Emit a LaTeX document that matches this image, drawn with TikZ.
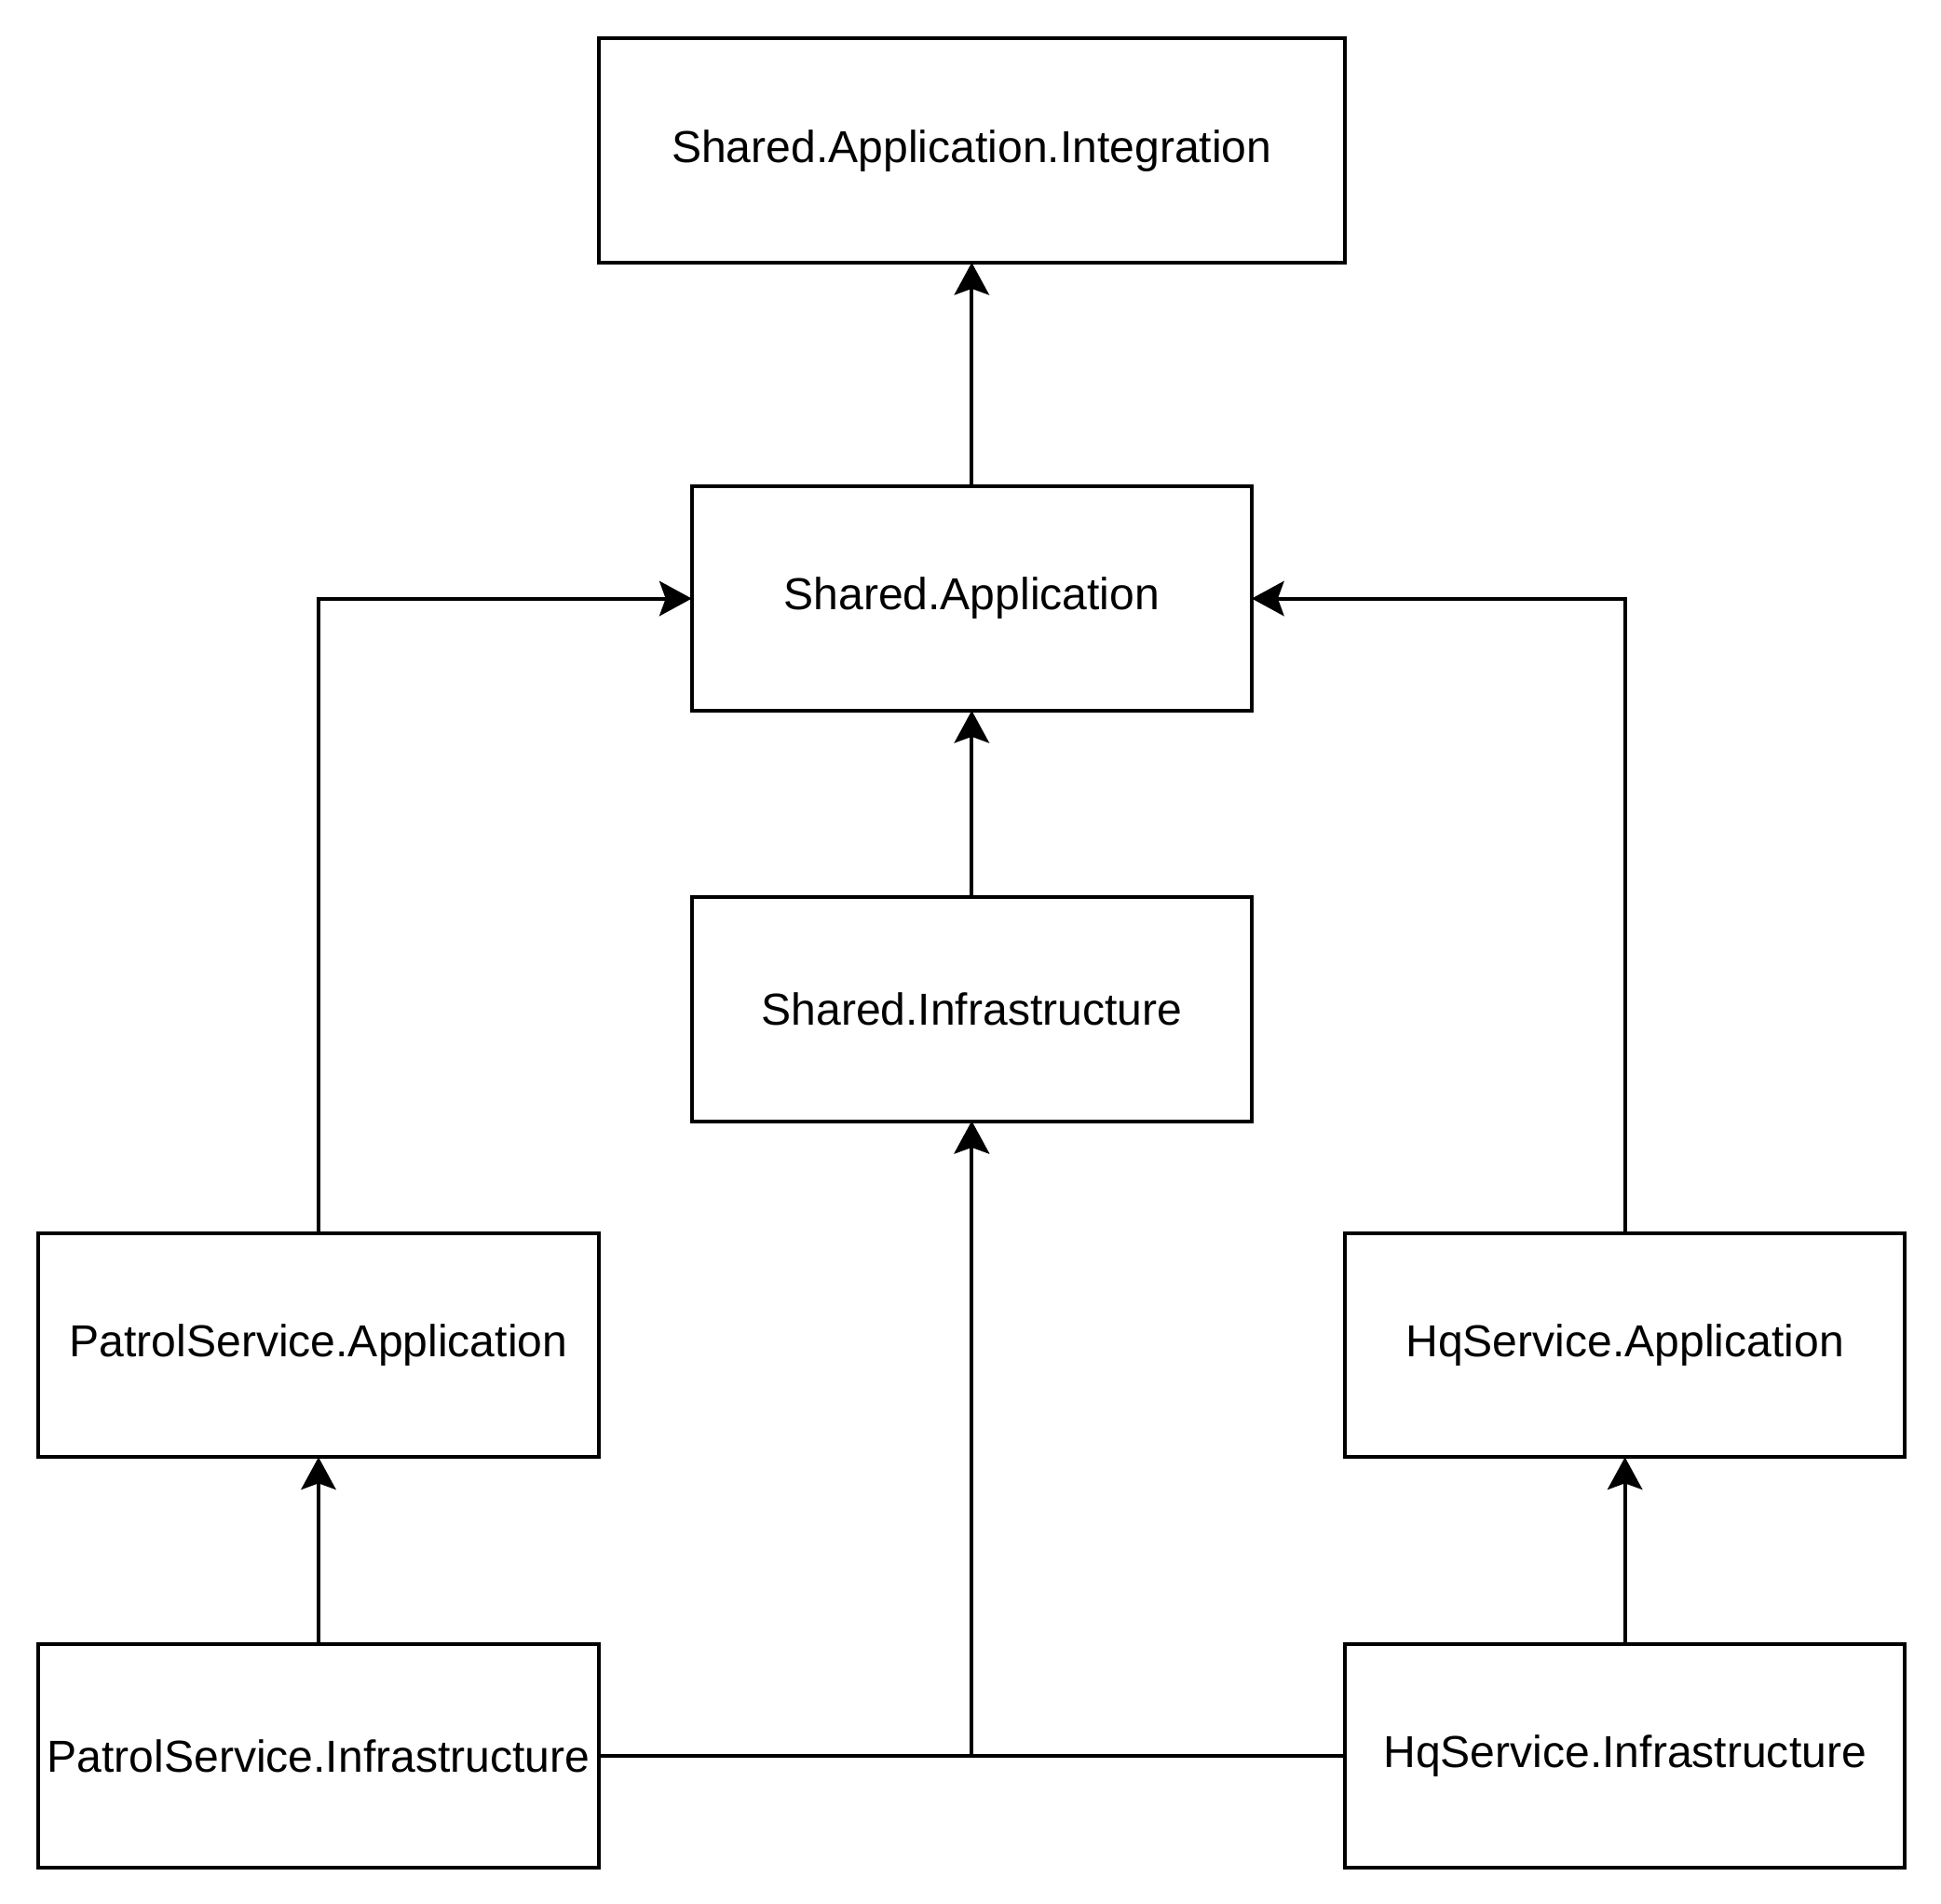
\documentclass[tikz,border=0pt]{standalone}
\usepackage{fontspec}
\setmainfont{Liberation Sans}
\usetikzlibrary{positioning,calc,arrows.meta}

\begin{document}
\begin{tikzpicture}[->,>={Stealth[length=13pt,width=14pt,inset=2.5pt]},line width=1.5pt,
  box/.style={draw,-,minimum width=225pt,minimum height=90pt,inner sep=0pt,outer sep=0pt,font=\fontsize{18pt}{22pt}\selectfont},
  wide/.style={minimum width=300pt}]
\node (SA) [box] {Shared.Application};
\node (SAI) [box,wide,above=90pt of SA] {Shared.Application.Integration};
\node (SI) [box,below=75pt of SA] {Shared.Infrastructure};
\node (PA) [box,below left=45pt and 37.5pt of SI.south west,anchor=north east] {PatrolService.Application};
\node (HA) [box,below right=45pt and 37.5pt of SI.south east,anchor=north west] {HqService.Application};
\node (PI) [box,below=75pt of PA] {PatrolService.Infrastructure};
\node (HI) [box,below=75pt of HA] {HqService.Infrastructure};
\draw (SA) -- (SAI);
\draw (SI) -- (SA);
\draw (PA) |- (SA);
\draw (HA) |- (SA);
\draw (PI) -- (PA);
\draw (HI) -- (HA);
\draw (PI) -| (SI);
\draw (HI) -| (SI);
\useasboundingbox ($(PA.west |- SAI.north)+(-15.5pt,15.5pt)$) rectangle ($(HI.south east)+(14.5pt,-14.5pt)$);
\end{tikzpicture}
\end{document}
